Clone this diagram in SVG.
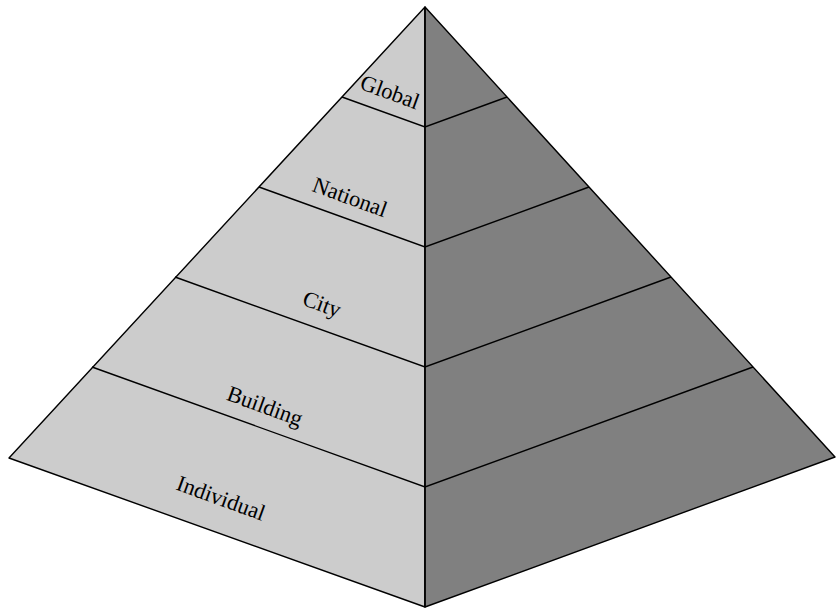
<svg xmlns="http://www.w3.org/2000/svg" width="836" height="610" viewBox="0 0 836 610">
<style>
.l{fill:#cccccc;stroke:#000;stroke-width:1.4;stroke-linejoin:round}
.r{fill:#808080;stroke:#000;stroke-width:1.4;stroke-linejoin:round}
.ln{stroke:#000;stroke-width:1.4;fill:none}
.t{font-family:"Liberation Serif","DejaVu Serif",serif;font-size:22.5px;fill:#000;text-anchor:middle;dominant-baseline:central}
</style>
<g id="faces">
<polygon class="l" points="425,7 9,458 425,607"/>
<polygon class="r" points="425,7 835,457 425,607"/>
</g>
<g id="connectors">
<polyline class="ln" points="342,97 425,127 507,97"/>
<polyline class="ln" points="259,187 425,247 589,187"/>
<polyline class="ln" points="175,277 425,367 671,277"/>
<polyline class="ln" points="92,367 425,487 753,367"/>
<line class="ln" x1="425" y1="7" x2="425" y2="607"/>
</g>
<g id="global"><text class="t" transform="translate(390,92) rotate(20)">Global</text></g>
<g id="national"><text class="t" transform="translate(350,197) rotate(20)">National</text></g>
<g id="city"><text class="t" transform="translate(322,304) rotate(20)">City</text></g>
<g id="building"><text class="t" transform="translate(265,406) rotate(20)">Building</text></g>
<g id="individual"><text class="t" transform="translate(221,498) rotate(20)">Individual</text></g>
</svg>
